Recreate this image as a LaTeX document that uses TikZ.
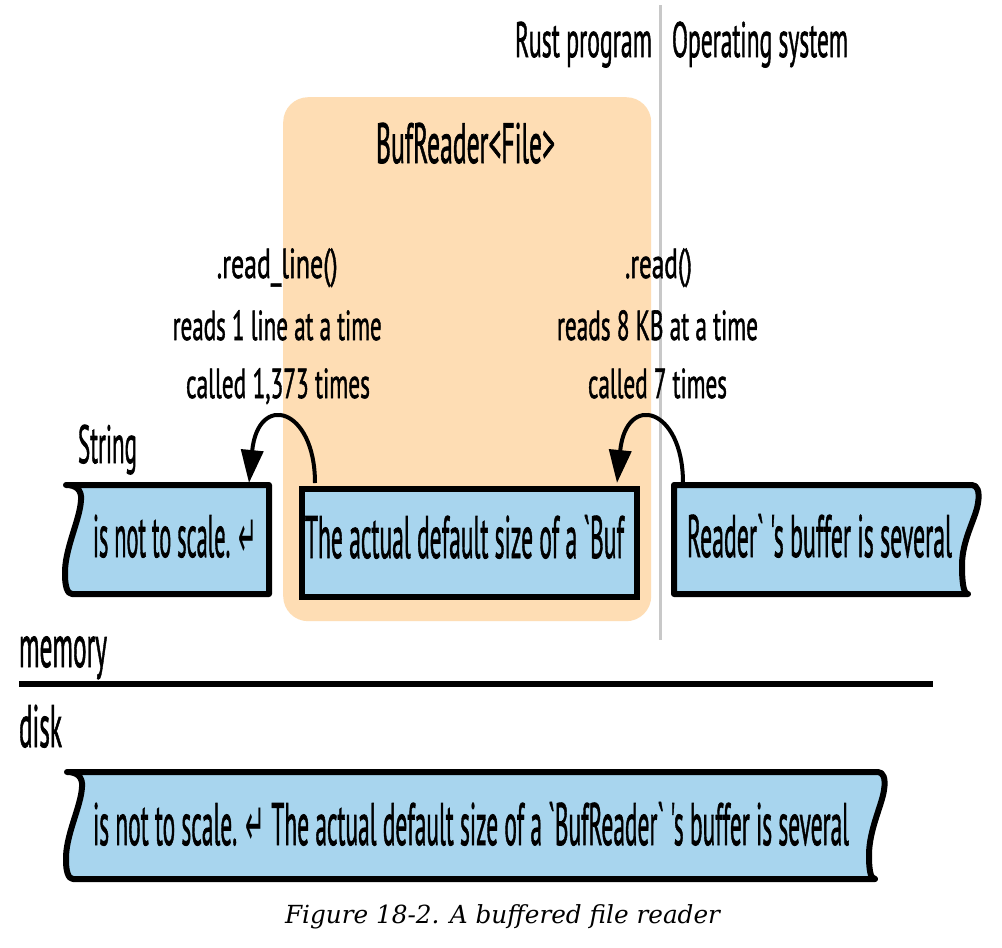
\documentclass[tikz,border=0pt]{standalone}
\usepackage{fontspec}
\usepackage{graphicx}
\usetikzlibrary{arrows.meta}
\newfontfamily\tx{PT Sans}[Ligatures=TeXOff, FakeBold=1.5]
\newfontfamily\sym{DejaVu Sans}
\newfontfamily\capfont{DejaVu Serif}
\definecolor{bluefill}{RGB}{168,213,238}
\definecolor{orangefill}{RGB}{254,221,180}
\definecolor{sepgrey}{RGB}{200,200,200}
\newcommand\fitw[2]{\resizebox{#1bp}{\height}{#2}}
\begin{document}
\begin{tikzpicture}[x=1bp,y=-1bp,
  lbl/.style={inner sep=0pt, outer sep=0pt, anchor=base west},
  headfont/.style={font=\tx\fontsize{50}{50}\selectfont},
  titlefont/.style={font=\tx\fontsize{57}{57}\selectfont},
  notefont/.style={font=\tx\fontsize{42}{42}\selectfont},
  bigfont/.style={font=\tx\fontsize{60}{60}\selectfont},
  strfont/.style={font=\tx\fontsize{54}{54}\selectfont},
  tape/.style={fill=bluefill, draw=black, line width=6bp, line join=round, line cap=round},
  callarrow/.style={draw, line width=4bp, -{Triangle[length=33bp,width=22bp]}},
]
\useasboundingbox (0,0) rectangle (1002,948);
\fill[white] (0,0) rectangle (1002,948);

% BufReader area
\node[fill=orangefill, rounded corners=25bp, minimum width=368bp, minimum height=524bp,
      inner sep=0pt, anchor=north west] (bufreader) at (283,97) {};
\node[lbl, titlefont] (brtitle) at (376,163) {\fitw{179}{BufReader<File>}};

% separator between program and OS
\draw[sepgrey, line width=3bp] (660.5,5) -- (660.5,640);
\node[lbl, headfont] (rust) at (515,57) {\fitw{137}{Rust program}};
\node[lbl, headfont] (os) at (672,57) {\fitw{176}{Operating system}};

% labels
\node[lbl, notefont] (l1) at (216.7,278) {\fitw{121}{.read\_line()}};
\node[lbl, notefont] (l2) at (172.7,340) {\fitw{209}{reads 1 line at a time}};
\node[lbl, notefont] (l3) at (186,398) {\fitw{184}{called 1,373 times}};
\node[lbl, notefont] (r1) at (625,278) {\fitw{67}{.read()}};
\node[lbl, notefont] (r2) at (557,340) {\fitw{201}{reads 8 KB at a time}};
\node[lbl, notefont] (r3) at (588,398) {\fitw{139}{called 7 times}};

% String buffer (left)
\node[lbl, strfont] (strlbl) at (78,463) {\fitw{59}{String}};
\path[tape] (66,485) .. controls (76,485) and (82,490) .. (81,500)
  .. controls (80,520) and (64,550) .. (65,575)
  .. controls (65,585) and (67,594) .. (72,594) -- (269,594) -- (269,485) -- cycle;
\node[lbl, bigfont] (strtxt) at (93,557) {\fitw{164}{is not to scale. {\sym ↵}}};
\coordinate (strtop) at (249,483);

% BufReader buffer (middle)
\node[draw, fill=bluefill, line width=6bp, minimum width=335bp, minimum height=108bp,
      inner sep=0pt, anchor=north west] (mid) at (299,486) {};
\node[lbl, bigfont] (midtxt) at (305,558) {\fitw{319}{The actual default size of a `Buf}};
\coordinate (midstart) at (315,483);
\coordinate (midtop) at (617,483);

% OS buffer (right)
\path[tape] (674,485) -- (972,485) .. controls (977,485) and (980,491) .. (978,503)
  .. controls (976,518) and (962,540) .. (962,565)
  .. controls (962,580) and (963,594) .. (968,594) -- (674,594) -- cycle;
\node[lbl, bigfont] (ostxt) at (687,557) {\fitw{265}{Reader` 's buffer is several}};
\coordinate (osstart) at (683,483);

% arrows
\draw[callarrow] (midstart) .. controls (315,407) and (258,392) .. (strtop);
\draw[callarrow] (osstart) .. controls (683,407) and (626,392) .. (midtop);

% memory / disk
\node[lbl, bigfont] (mem) at (19,667) {\fitw{88}{memory}};
\draw[line width=6bp] (19,684) -- (933,684);
\node[lbl, bigfont] (disk) at (19,747) {\fitw{43}{disk}};

% file on disk
\path[tape] (67,772) .. controls (77,772) and (83,777) .. (82,787)
  .. controls (81,807) and (65,836) .. (66,861)
  .. controls (66,870) and (68,879) .. (73,879) -- (875,879)
  .. controls (870,879) and (869,868) .. (869,855)
  .. controls (869,830) and (882,805) .. (884,790)
  .. controls (886,778) and (883,772) .. (878,772) -- cycle;
\node[lbl, bigfont] (disktxt) at (93,845) {\fitw{756}{is not to scale. {\sym ↵} The actual default size of a `BufReader` 's buffer is several}};

% caption
\node[lbl, font=\capfont\itshape\fontsize{25}{25}\selectfont] (caption) at (285,923)
  {\fitw{435}{Figure 18-2. A buffered file reader}};
\end{tikzpicture}
\end{document}
